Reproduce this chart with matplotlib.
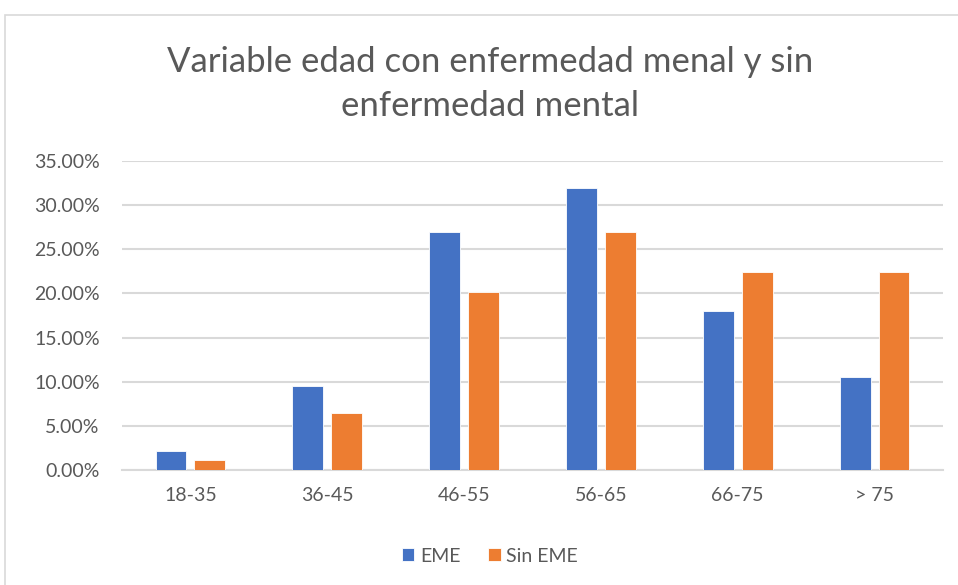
import matplotlib
matplotlib.use("Agg")
import matplotlib.pyplot as plt
from matplotlib.patches import Rectangle
from matplotlib.ticker import FuncFormatter, MultipleLocator
import numpy as np

categories = ["18-35", "36-45", "46-55", "56-65", "66-75", "> 75"]
eme = [2.12, 9.55, 26.99, 31.91, 17.98, 10.57]
sin_eme = [1.10, 6.49, 20.13, 26.99, 22.46, 22.46]
series_names = ["EME", "Sin EME"]

blue = "#4472C4"
orange = "#ED7D31"
grid_c = "#D9D9D9"
text_c = "#595959"

plt.rcParams["font.family"] = ["Lato", "DejaVu Sans"]

W, H = 958, 585
fig = plt.figure(figsize=(W / 100, H / 100), dpi=100)
fig.patch.set_facecolor("white")

# chart-area frame
fig.patches.append(Rectangle((5 / W, -0.1), 1.1, (H - 15) / H + 0.1,
                             transform=fig.transFigure, fill=False,
                             edgecolor="#D9D9D9", linewidth=1.2))

ax = fig.add_axes([122 / W, 1 - 470 / H, (943 - 122) / W, (470 - 161) / H])
x = np.arange(len(categories))
bw = 0.226
off = 0.142
ax.bar(x - off, eme, width=bw, color=blue, edgecolor="white", linewidth=0.6,
       label=series_names[0], zorder=3)
ax.bar(x + off, sin_eme, width=bw, color=orange, edgecolor="white", linewidth=0.6,
       label=series_names[1], zorder=3)

ax.set_xlim(-0.5, len(categories) - 0.5)
ax.set_ylim(0, 35)
ax.yaxis.set_major_locator(MultipleLocator(5))
ax.yaxis.set_major_formatter(FuncFormatter(lambda v, p: f"{v:.2f}%"))
ax.set_xticks(x)
ax.set_xticklabels(categories)
ax.grid(axis="y", color=grid_c, linewidth=1.5, zorder=0)
ax.set_axisbelow(True)
for s in ["top", "right", "left"]:
    ax.spines[s].set_visible(False)
ax.spines["bottom"].set_color(grid_c)
ax.spines["bottom"].set_linewidth(1.5)
ax.tick_params(axis="both", length=0, labelsize=14, labelcolor=text_c)
ax.tick_params(axis="y", pad=16)
ax.tick_params(axis="x", pad=12)

fig.text(490 / W, 1 - 62 / H, "Variable edad con enfermedad menal y sin",
         ha="center", va="center", fontsize=25, color=text_c)
fig.text(490 / W, 1 - 106 / H, "enfermedad mental",
         ha="center", va="center", fontsize=25, color=text_c)

leg = fig.legend(loc="center", bbox_to_anchor=(490 / W, 1 - 556 / H), ncol=2,
                 frameon=False, fontsize=14, handlelength=0.65, handleheight=0.65,
                 handletextpad=0.3, columnspacing=1.4)
for t in leg.get_texts():
    t.set_color(text_c)

fig.savefig("out.png", dpi=100)
